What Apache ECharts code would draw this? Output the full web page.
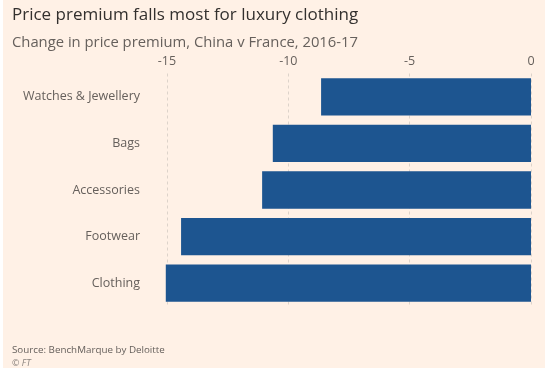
<!DOCTYPE html>
<html lang="en">
<head>
  <meta charset="UTF-8">
  <title>Price premium falls most for luxury clothing</title>
  <script src="https://cdn.jsdelivr.net/npm/echarts@6/dist/echarts.min.js"></script>
  <style>
    html, body { margin: 0; padding: 0; background: #fff; }
    #chart { position: absolute; left: 3px; top: 0; width: 542px; height: 368px; background: #fff1e6; }
  </style>
</head>
<body>
  <div id="chart"></div>
  <script>
    // data
    var categories = ['Watches & Jewellery', 'Bags', 'Accessories', 'Footwear', 'Clothing'];
    var premiumChange = [-8.65, -10.64, -11.08, -14.42, -15.05];
    var tickMin = -15, tickMax = 0, tickStep = 5;

    var font = '"Open Sans", "Noto Sans", sans-serif';
    var chart = echarts.init(document.getElementById('chart'));

    chart.setOption({
      backgroundColor: '#fff1e6',
      textStyle: { fontFamily: font },
      title: [
        {
          text: 'Price premium falls most for luxury clothing',
          left: 4, top: 2,
          textStyle: { fontFamily: font, fontSize: 17, fontWeight: 'normal', color: '#33302e' }
        },
        {
          text: 'Change in price premium, China v France, 2016-17',
          left: 4, top: 30,
          textStyle: { fontFamily: font, fontSize: 14.8, fontWeight: 'normal', color: '#66605c' }
        },
        {
          text: 'Source: BenchMarque by Deloitte',
          left: 4, top: 340,
          textStyle: { fontFamily: font, fontSize: 9.8, fontWeight: 'normal', color: '#66605c' }
        },
        {
          text: '© FT',
          left: 4, top: 354,
          textStyle: { fontFamily: font, fontSize: 9, fontWeight: 'normal', fontStyle: 'italic', color: '#8a837e' }
        }
      ],
      grid: { left: 164, right: 14, top: 73.5, height: 233 },
      xAxis: {
        type: 'value',
        position: 'top',
        min: tickMin,
        max: tickMax,
        interval: tickStep,
        axisLine: { show: false },
        axisTick: { show: false },
        axisLabel: { margin: 6, fontSize: 12.5, color: '#66605c', fontFamily: font },
        splitLine: { show: true, lineStyle: { color: '#ddd3ca', type: [3, 3], width: 1 } }
      },
      yAxis: {
        type: 'category',
        data: categories,
        inverse: true,
        axisLine: { show: false },
        axisTick: { show: false },
        axisLabel: { margin: 27, fontSize: 12.5, color: '#66605c', fontFamily: font }
      },
      series: [{
        type: 'bar',
        data: premiumChange,
        barCategoryGap: '20%',
        clip: false,
        itemStyle: { color: '#1d5590' },
        silent: true
      }]
    });
  </script>
</body>
</html>
